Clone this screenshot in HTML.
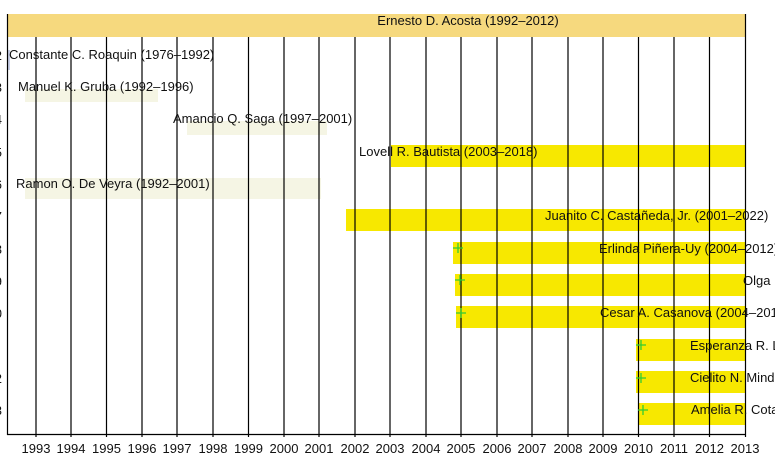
<!DOCTYPE html><html><head><meta charset="utf-8"><style>body{margin:0;background:#fff}svg{display:block}text{font-family:"Liberation Sans",sans-serif;font-size:13px;fill:#111}</style></head><body>
<svg width="775" height="455" xmlns="http://www.w3.org/2000/svg">
<rect x="7" y="14" width="738" height="23" fill="#f6d97e"/>
<g fill="#f5f5e4">
<rect x="25" y="89" width="133" height="13"/>
<rect x="187" y="121" width="140" height="14"/>
<rect x="25" y="178" width="296" height="21"/>
</g>
<rect x="7" y="50" width="3" height="20" fill="#c8cfe8"/>
<g fill="#f7e800">
<rect x="391" y="145" width="354" height="22"/>
<rect x="346" y="209" width="399" height="22"/>
<rect x="453" y="242" width="292" height="22"/>
<rect x="455" y="274" width="290" height="22"/>
<rect x="456" y="306" width="289" height="22"/>
<rect x="636" y="339" width="109" height="22"/>
<rect x="636" y="371" width="109" height="22"/>
<rect x="638" y="403" width="107" height="22"/>
</g>
<g stroke="#000" stroke-width="1.2">
<line x1="7.5" y1="14" x2="7.5" y2="435"/>
<line x1="745.5" y1="14" x2="745.5" y2="437"/>
<line x1="7" y1="434.5" x2="745" y2="434.5"/>
<line x1="36" y1="37" x2="36" y2="437"/><line x1="71" y1="37" x2="71" y2="437"/><line x1="106.5" y1="37" x2="106.5" y2="437"/><line x1="142" y1="37" x2="142" y2="437"/><line x1="177" y1="37" x2="177" y2="437"/><line x1="213" y1="37" x2="213" y2="437"/><line x1="248.5" y1="37" x2="248.5" y2="437"/><line x1="284" y1="37" x2="284" y2="437"/><line x1="319" y1="37" x2="319" y2="437"/><line x1="355" y1="37" x2="355" y2="437"/><line x1="390" y1="37" x2="390" y2="437"/><line x1="426" y1="37" x2="426" y2="437"/><line x1="461" y1="37" x2="461" y2="437"/><line x1="497" y1="37" x2="497" y2="437"/><line x1="532" y1="37" x2="532" y2="437"/><line x1="568" y1="37" x2="568" y2="437"/><line x1="603" y1="37" x2="603" y2="437"/><line x1="638.5" y1="37" x2="638.5" y2="437"/><line x1="674" y1="37" x2="674" y2="437"/><line x1="709.5" y1="37" x2="709.5" y2="437"/>
</g>
<g stroke="#33cc33" stroke-width="1.3">
<path d="M453 248h10M458 243v10"/><path d="M455 280h10M460 275v10"/><path d="M456 313h10M461 308v10"/>
<path d="M636 345h10M641 340v10"/><path d="M636 378h10M641 373v10"/><path d="M638 410h10M643 405v10"/>
</g>
<text x="468" y="25" text-anchor="middle">Ernesto D. Acosta (1992–2012)</text>
<text x="9" y="59">Constante C. Roaquin (1976–1992)</text>
<text x="18" y="91">Manuel K. Gruba (1992–1996)</text>
<text x="173" y="123">Amancio Q. Saga (1997–2001)</text>
<text x="359" y="156">Lovell R. Bautista (2003–2018)</text>
<text x="16" y="188">Ramon O. De Veyra (1992–2001)</text>
<text x="545" y="220">Juanito C. Castañeda, Jr. (2001–2022)</text>
<text x="599" y="253">Erlinda Piñera-Uy (2004–2012)</text>
<text x="743" y="285">Olga</text>
<text x="600" y="317">Cesar A. Casanova (2004–2013)</text>
<text x="690" y="350">Esperanza R. L</text>
<text x="690" y="382">Cielito N. Mindo</text>
<text x="691" y="414">Amelia R. Cota</text>
<g style="font-size:10px" text-anchor="end">
<text x="2" y="60">2</text><text x="2" y="92">3</text><text x="2" y="124">4</text><text x="2" y="157">5</text><text x="2" y="189">6</text><text x="2" y="221">7</text><text x="2" y="254">8</text><text x="2" y="286">9</text><text x="2" y="318">0</text><text x="2" y="383">2</text><text x="2" y="415">3</text>
</g>
<g style="font-size:10px" text-anchor="middle">
<text x="36" y="453">1993</text><text x="71" y="453">1994</text><text x="106.5" y="453">1995</text><text x="142" y="453">1996</text><text x="177" y="453">1997</text><text x="213" y="453">1998</text><text x="248.5" y="453">1999</text><text x="284" y="453">2000</text><text x="319" y="453">2001</text><text x="355" y="453">2002</text><text x="390" y="453">2003</text><text x="426" y="453">2004</text><text x="461" y="453">2005</text><text x="497" y="453">2006</text><text x="532" y="453">2007</text><text x="568" y="453">2008</text><text x="603" y="453">2009</text><text x="638.5" y="453">2010</text><text x="674" y="453">2011</text><text x="709.5" y="453">2012</text><text x="745" y="453">2013</text>
</g>
</svg></body></html>
